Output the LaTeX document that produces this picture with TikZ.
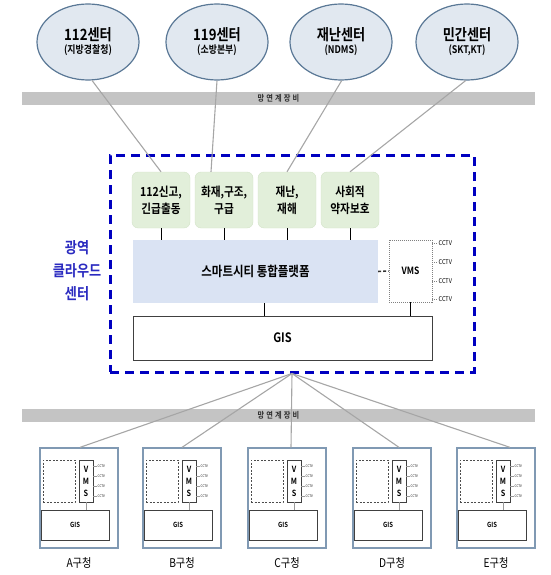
\documentclass[tikz,border=0pt]{standalone}
\usepackage{fontspec}
\setmainfont{Noto Sans CJK KR}[BoldFont={Noto Sans CJK KR Bold},FakeStretch=0.85]
\usetikzlibrary{shapes.geometric,calc}
\definecolor{ellfill}{HTML}{E1E8F0}
\definecolor{ellborder}{HTML}{5A7896}
\definecolor{bargray}{HTML}{C4C4C4}
\definecolor{bartext}{HTML}{2E2E2E}
\definecolor{conngray}{HTML}{A6A6A6}
\definecolor{greenfill}{HTML}{E2EFDA}
\definecolor{greenborder}{HTML}{D3E3C8}
\definecolor{platfill}{HTML}{DAE3F3}
\definecolor{cloudblue}{HTML}{0000C0}
\definecolor{labelblue}{HTML}{2B2BC0}
\definecolor{dborder}{HTML}{8099B3}
\begin{document}
\begin{tikzpicture}[x=1pt,y=-1pt,
  ell/.style={ellipse, draw=ellborder, line width=1.2pt, fill=ellfill, minimum width=102, minimum height=76, align=center, inner sep=0pt, font=\bfseries},
  barstyle/.style={fill=bargray, minimum width=513, minimum height=13, inner sep=0pt, font=\fontsize{8.5}{9}\selectfont\bfseries\addfontfeature{LetterSpace=25}, text=bartext},
  conn/.style={draw=conngray, line width=1.1pt},
  gbox/.style={rounded corners=6pt, fill=greenfill, draw=greenborder, line width=0.4pt, minimum width=58, minimum height=56, align=center, inner sep=0pt, font=\fontsize{12.5}{17}\selectfont\bfseries},
  platbox/.style={fill=platfill, minimum width=245, minimum height=63, inner sep=0pt, font=\fontsize{13.5}{15}\selectfont\bfseries},
  vmsbox/.style={draw=gray, dash pattern=on 1pt off 1pt, line width=0.9pt, fill=white, minimum width=43, minimum height=62, inner sep=0pt, font=\fontsize{10}{12}\selectfont\bfseries},
  gisbox/.style={draw=black!75, line width=0.6pt, fill=white, minimum width=299, minimum height=44, inner sep=0pt, font=\fontsize{13}{15}\selectfont\bfseries},
  cloudbox/.style={draw=cloudblue, line width=3pt, dash pattern=on 9pt off 6pt, minimum width=364, minimum height=217, inner sep=0pt},
  cloudlabel/.style={align=center, text=labelblue, font=\fontsize{15.5}{23}\selectfont\bfseries, inner sep=0pt},
  cctv/.style={font=\fontsize{6.5}{7}\selectfont, inner sep=0.5pt},
  cctvdash/.style={draw=gray, line width=0.5pt, dash pattern=on 1pt off 1pt},
  tick/.style={draw=black, line width=1pt},
  vmsconn/.style={draw=black!80, line width=1.5pt, dash pattern=on 3pt off 2pt},
  dbox/.style={draw=dborder, line width=1.3pt, fill=white, minimum width=78, minimum height=100, inner sep=0pt},
  ddash/.style={draw=black!70, dash pattern=on 2pt off 1.5pt, line width=0.6pt, minimum width=32, minimum height=42, inner sep=0pt},
  dvms/.style={draw=black!75, line width=0.7pt, fill=white, minimum width=14, minimum height=42, inner sep=0pt, align=center, font=\fontsize{8.5}{12}\selectfont\bfseries},
  dgis/.style={draw=black!75, line width=0.6pt, fill=white, minimum width=68, minimum height=30, inner sep=0pt, font=\fontsize{7}{8}\selectfont\bfseries},
  dcctv/.style={font=\fontsize{3.5}{4}\selectfont, inner sep=0.5pt},
  dline/.style={draw=gray!80, line width=0.5pt},
  dlabel/.style={font=\fontsize{12}{13}\selectfont, inner sep=0pt}
]
\useasboundingbox (0,0) rectangle (550,575);
\node[barstyle] (bar1) at (278.5,98.5) {망연계장비};
\node[barstyle] (bar2) at (278.5,415) {망연계장비};

\node[ell] (e1) at (88,42) {{\fontsize{15.5}{17}\selectfont 112센터}\\[1pt]{\fontsize{10.5}{12}\selectfont (지방경찰청)}};
\node[ell] (e2) at (217,42) {{\fontsize{15.5}{17}\selectfont 119센터}\\[1pt]{\fontsize{10.5}{12}\selectfont (소방본부)}};
\node[ell] (e3) at (341,42) {{\fontsize{15.5}{17}\selectfont 재난센터}\\[1pt]{\fontsize{10.5}{12}\selectfont (NDMS)}};
\node[ell] (e4) at (467,42) {{\fontsize{15.5}{17}\selectfont 민간센터}\\[1pt]{\fontsize{10.5}{12}\selectfont (SKT,KT)}};

\node[cloudbox] (cloud) at (292,263.5) {};
\node[cloudlabel] (clab) at (77,271) {광역\\클라우드\\센터};

\node[gbox] (g1) at (161,200) {112신고,\\긴급출동};
\node[gbox] (g2) at (224,200) {화재,구조,\\구급};
\node[gbox] (g3) at (287,200) {재난,\\재해};
\node[gbox] (g4) at (350,200) {사회적\\약자보호};

\node[platbox] (plat) at (255.5,271.5) {스마트시티 통합플랫폼};
\node[vmsbox] (vms) at (410.5,271) {VMS};
\node[gisbox] (gis) at (282.5,338) {GIS};

\foreach \y [count=\k] in {243,262,281,299} {
  \node[cctv, anchor=west] (cc\k) at (438,\y) {CCTV};
  \draw[cctvdash] (vms.east |- cc\k) -- (cc\k.west);
}

\foreach \g in {g1,g2,g3,g4} \draw[tick] (\g.south) -- (\g.south |- plat.north);
\coordinate (pg) at ($(plat.south)+(8.5,0)$);
\draw[tick] (pg) -- (pg |- gis.north);
\draw[tick] (vms.south) -- (vms.south |- gis.north);
\draw[vmsconn] (plat.east) -- (vms.west);

\draw[conn] (e1.-84) -- (g1.north);
\draw[conn] (e2.-90) -- ($(g2.north)+(-13,0)$);
\draw[conn] (e3.-89) -- (g3.north);
\draw[conn] (e4.-92) -- (g4.north);

\foreach \cx/\lab/\off [count=\i] in {79/A/1,182/B/0,287/C/4,392/D/7,496/E/14} {
  \node[dbox] (d\i) at (\cx,498) {};
  \node[ddash] (dd\i) at (\cx-20,481) {};
  \node[dvms] (dv\i) at (\cx+7,481) {V\\M\\S};
  \node[dgis] (dg\i) at (\cx-4,525) {GIS};
  \draw[dline] (dv\i.south) -- (dv\i.south |- dg\i.north);
  \foreach \y [count=\k] in {466,476,486,496} {
    \node[dcctv, anchor=west] (dc\i-\k) at (\cx+18,\y) {CCTV};
    \draw[dline] (dv\i.east |- dc\i-\k) -- (dc\i-\k.west);
  }
  \node[dlabel] (dl\i) at (\cx,563) {\lab 구청};
  \draw[conn] (cloud.south) -- ($(d\i.north)+(\off,0)$);
}
\end{tikzpicture}
\end{document}
